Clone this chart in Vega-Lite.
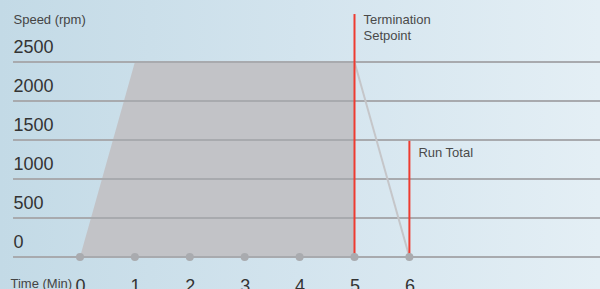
{
  "$schema": "https://vega.github.io/schema/vega-lite/v6.json",
  "width": 600,
  "height": 289,
  "padding": 0,
  "autosize": "none",
  "background": "#d3e4ee",
  "view": {
    "stroke": null,
    "fill": {
      "gradient": "linear",
      "x1": 0, "y1": 0, "x2": 1, "y2": 0,
      "stops": [
        {"offset": 0, "color": "#c3dae6"},
        {"offset": 0.5, "color": "#d3e4ee"},
        {"offset": 1, "color": "#e4eff5"}
      ]
    }
  },
  "config": {
    "font": "Liberation Sans",
    "axis": {"labelFont": "Liberation Sans", "titleFont": "Liberation Sans"}
  },
  "datasets": {
    "profile": [{"t": 0, "rpm": 0}, {"t": 1, "rpm": 2500}, {"t": 5, "rpm": 2500}],
    "decel": [{"t": 5, "rpm": 2500}, {"t": 6, "rpm": 0}],
    "grid": [{"rpm": 0}, {"rpm": 500}, {"rpm": 1000}, {"rpm": 1500}, {"rpm": 2000}, {"rpm": 2500}],
    "events": [{"t": 5, "top": 3115}, {"t": 6, "top": 1490}],
    "dots": [{"t": 0, "rpm": 0}, {"t": 1, "rpm": 0}, {"t": 2, "rpm": 0}, {"t": 3, "rpm": 0}, {"t": 4, "rpm": 0}, {"t": 5, "rpm": 0}, {"t": 6, "rpm": 0}],
    "notes": [{"t": 5, "rpm": 2990, "label": "Termination\nSetpoint"}, {"t": 6, "rpm": 1282, "label": "Run Total"}]
  },
  "layer": [
    {
      "data": {"name": "profile"},
      "mark": {"type": "area", "color": "#c2c3c7", "opacity": 1},
      "encoding": {
        "x": {
          "field": "t", "type": "quantitative",
          "scale": {"domain": [-1.4572, 9.4718], "nice": false, "zero": false},
          "axis": {
            "values": [0, 1, 2, 3, 4, 5, 6], "format": "d",
            "domain": false, "ticks": false, "grid": false,
            "labelPadding": -12, "labelBaseline": "top", "labelFontSize": 18,
            "labelColor": "#333333", "labelOverlap": false, "labelFlush": false,
            "title": "Time (Min)", "titleX": 10, "titleY": -2, "titleAlign": "left",
            "titleBaseline": "alphabetic", "titleFontSize": 13, "titleFontWeight": "normal",
            "titleColor": "#444444", "titleAngle": 0
          }
        },
        "y": {
          "field": "rpm", "type": "quantitative",
          "scale": {"domain": [-410, 3295], "nice": false, "zero": false},
          "axis": {
            "values": [0, 500, 1000, 1500, 2000, 2500], "format": "d",
            "domain": false, "ticks": false, "grid": false,
            "labelAlign": "left", "labelBaseline": "alphabetic", "labelPadding": -13,
            "labelOffset": -10, "labelFontSize": 18, "labelColor": "#333333",
            "labelOverlap": false, "labelFlush": false,
            "title": "Speed (rpm)", "titleAngle": 0, "titleAlign": "left",
            "titleBaseline": "alphabetic", "titleX": 13, "titleY": 23,
            "titleFontSize": 13, "titleFontWeight": "normal", "titleColor": "#444444"
          }
        },
        "y2": {"datum": 0}
      }
    },
    {
      "data": {"name": "grid"},
      "mark": {"type": "rule", "color": "#a8aaae", "strokeWidth": 2},
      "encoding": {
        "y": {"field": "rpm", "type": "quantitative"},
        "x": {"datum": -1.22},
        "x2": {"datum": 9.4718}
      }
    },
    {
      "data": {"name": "decel"},
      "mark": {"type": "line", "color": "#c5c6c9", "strokeWidth": 2},
      "encoding": {
        "x": {"field": "t", "type": "quantitative"},
        "y": {"field": "rpm", "type": "quantitative"}
      }
    },
    {
      "data": {"name": "events"},
      "mark": {"type": "rule", "color": "#ee3b30", "strokeWidth": 2},
      "encoding": {
        "x": {"field": "t", "type": "quantitative"},
        "y": {"field": "top", "type": "quantitative"},
        "y2": {"datum": 0}
      }
    },
    {
      "data": {"name": "dots"},
      "mark": {"type": "point", "filled": true, "color": "#a9abaf", "size": 64, "opacity": 1},
      "encoding": {
        "x": {"field": "t", "type": "quantitative"},
        "y": {"field": "rpm", "type": "quantitative"}
      }
    },
    {
      "data": {"name": "notes"},
      "mark": {"type": "text", "align": "left", "baseline": "alphabetic", "dx": 9, "fontSize": 13, "color": "#4a4a4a", "lineBreak": "\n", "lineHeight": 16},
      "encoding": {
        "x": {"field": "t", "type": "quantitative"},
        "y": {"field": "rpm", "type": "quantitative"},
        "text": {"field": "label", "type": "nominal"}
      }
    }
  ]
}
